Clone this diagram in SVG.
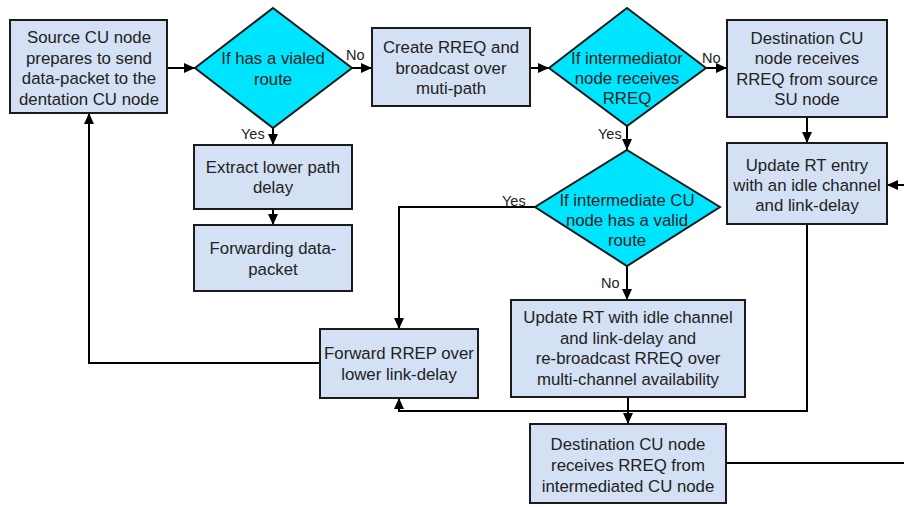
<svg xmlns="http://www.w3.org/2000/svg" width="904" height="507" viewBox="0 0 904 507">
<style>
.box{fill:#d4e0f4;stroke:#1a1a1a;stroke-width:2}
.dia{fill:#00e5ff;stroke:#1a1a1a;stroke-width:2}
.t{font-family:"Liberation Sans",Arial,sans-serif;font-size:16.8px;fill:#222;text-anchor:middle}
.l{font-family:"Liberation Sans",Arial,sans-serif;font-size:14.5px;fill:#222}
.c{fill:none;stroke:#000;stroke-width:2}
</style>
<defs>
<marker id="ah" markerUnits="userSpaceOnUse" markerWidth="11" markerHeight="10" refX="11" refY="5" orient="auto">
<path d="M0,0 L11,5 L0,10 z" fill="#000"/>
</marker>
</defs>
<rect width="904" height="507" fill="#fff"/>
<g id="connectors">
<path class="c" d="M167,68 H195" marker-end="url(#ah)"/>
<path class="c" d="M352,68 H372" marker-end="url(#ah)"/>
<path class="c" d="M530,68 H549" marker-end="url(#ah)"/>
<path class="c" d="M706,68 H727" marker-end="url(#ah)"/>
<path class="c" d="M807,117 V143" marker-end="url(#ah)"/>
<path class="c" d="M904,185 H887" marker-end="url(#ah)"/>
<path class="c" d="M273,128 V145" marker-end="url(#ah)"/>
<path class="c" d="M273,209 V225" marker-end="url(#ah)"/>
<path class="c" d="M627,126 V150" marker-end="url(#ah)"/>
<path class="c" d="M535,207 H399 V329" marker-end="url(#ah)"/>
<path class="c" d="M627,266 V300" marker-end="url(#ah)"/>
<path class="c" d="M807,224 V411 H399 V398" marker-end="url(#ah)"/>
<path class="c" d="M628,397 V424" marker-end="url(#ah)"/>
<path class="c" d="M320,363 H89 V113" marker-end="url(#ah)"/>
<path class="c" d="M726,463 H904"/>
<text class="l" x="346" y="60">No</text>
<text class="l" x="702" y="63">No</text>
<text class="l" x="241" y="139">Yes</text>
<text class="l" x="598" y="139">Yes</text>
<text class="l" x="502" y="206">Yes</text>
<text class="l" x="601" y="288">No</text>
</g>
<g id="n1">
<rect class="box" x="10" y="20" width="157" height="93"/>
<text class="t" x="89" y="43">Source CU node</text>
<text class="t" x="89" y="63.5">prepares to send</text>
<text class="t" x="89" y="84">data-packet to the</text>
<text class="t" x="89" y="104.5">dentation CU node</text>
</g>
<g id="d1">
<polygon class="dia" points="273,8 352,68 273,128 195,68"/>
<text class="t" x="273" y="64">If has a vialed</text>
<text class="t" x="273" y="84.5">route</text>
</g>
<g id="n2">
<rect class="box" x="372" y="28" width="158" height="78"/>
<text class="t" x="451" y="53">Create RREQ and</text>
<text class="t" x="451" y="73.5">broadcast over</text>
<text class="t" x="451" y="94">muti-path</text>
</g>
<g id="d2">
<polygon class="dia" points="627,8 706,68 627,126 549,68"/>
<text class="t" x="627" y="64">If intermediator</text>
<text class="t" x="627" y="84">node receives</text>
<text class="t" x="627" y="104">RREQ</text>
</g>
<g id="n3">
<rect class="box" x="727" y="20" width="160" height="97"/>
<text class="t" x="807" y="44">Destination CU</text>
<text class="t" x="807" y="64">node receives</text>
<text class="t" x="807" y="85">RREQ from source</text>
<text class="t" x="807" y="105">SU node</text>
</g>
<g id="n4">
<rect class="box" x="727" y="143" width="160" height="81"/>
<text class="t" x="807" y="171">Update RT entry</text>
<text class="t" x="807" y="191">with an idle channel</text>
<text class="t" x="807" y="211">and link-delay</text>
</g>
<g id="n5">
<rect class="box" x="194" y="145" width="158" height="64"/>
<text class="t" x="273" y="173">Extract lower path</text>
<text class="t" x="273" y="193">delay</text>
</g>
<g id="n6">
<rect class="box" x="194" y="225" width="158" height="66"/>
<text class="t" x="273" y="254">Forwarding data-</text>
<text class="t" x="273" y="275">packet</text>
</g>
<g id="d3">
<polygon class="dia" points="627,150 720,207 627,266 535,207"/>
<text class="t" x="627" y="206">If intermediate CU</text>
<text class="t" x="627" y="226">node has a valid</text>
<text class="t" x="627" y="246">route</text>
</g>
<g id="n7">
<rect class="box" x="511" y="300" width="234" height="97"/>
<text class="t" x="628" y="323">Update RT with idle channel</text>
<text class="t" x="628" y="344">and link-delay and</text>
<text class="t" x="628" y="364">re-broadcast RREQ over</text>
<text class="t" x="628" y="385">multi-channel availability</text>
</g>
<g id="n8">
<rect class="box" x="320" y="329" width="158" height="69"/>
<text class="t" x="399" y="359">Forward RREP over</text>
<text class="t" x="399" y="380">lower link-delay</text>
</g>
<g id="n9">
<rect class="box" x="530" y="424" width="196" height="79"/>
<text class="t" x="628" y="450">Destination CU node</text>
<text class="t" x="628" y="471">receives RREQ from</text>
<text class="t" x="628" y="492">intermediated CU node</text>
</g>
</svg>
